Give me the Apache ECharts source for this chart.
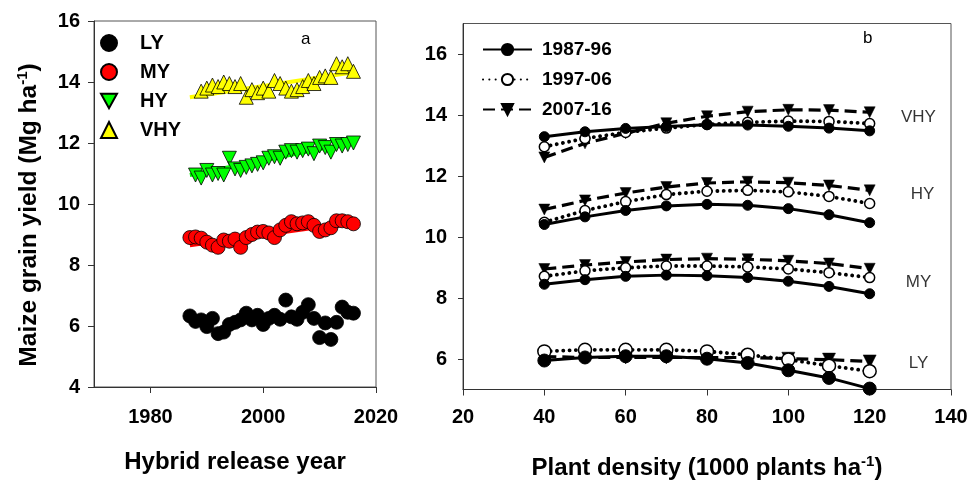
<!DOCTYPE html>
<html>
<head>
<meta charset="utf-8">
<script src="https://cdn.jsdelivr.net/npm/echarts@6/dist/echarts.min.js"></script>
<style>html,body{margin:0;padding:0;background:#fff}#c{width:975px;height:481px}</style>
</head>
<body>
<div id="c"></div>
<script>
// ---- Panel a data ----
const years = [1987,1988,1989,1990,1991,1992,1993,1994,1995,1996,1997,1998,1999,2000,2001,2002,2003,2004,2005,2006,2007,2008,2009,2010,2011,2012,2013,2014,2015,2016];
const LY  = [6.33,6.15,6.20,5.98,6.25,5.75,5.80,6.05,6.12,6.20,6.42,6.20,6.35,6.05,6.25,6.35,6.22,6.85,6.30,6.22,6.45,6.70,6.25,5.62,6.10,5.56,6.12,6.62,6.45,6.42];
const MY  = [8.90,8.92,8.88,8.75,8.65,8.58,8.82,8.78,8.85,8.58,8.90,9.00,9.08,9.10,9.05,8.90,9.15,9.30,9.42,9.35,9.38,9.42,9.30,9.10,9.15,9.22,9.45,9.45,9.42,9.35];
const HY  = [null,10.95,10.85,11.10,10.95,11.00,10.95,11.50,11.15,11.10,11.20,11.25,11.30,11.35,11.50,11.55,11.50,11.70,11.75,11.70,11.75,11.80,11.65,11.90,11.85,11.70,11.95,11.90,11.95,12.00];
const VHY = [null,null,13.70,13.80,13.90,13.85,14.00,13.95,13.85,13.95,13.50,13.75,13.65,13.80,13.70,14.05,13.95,13.80,13.70,13.75,13.85,14.05,13.95,14.15,14.20,14.15,14.60,14.50,14.60,14.35];
const fitYears = [1987, 2016];
const fitMY  = [8.65, 9.40];
const fitHY  = [10.95, 12.02];
const fitVHY = [13.50, 14.32];
const xTicksA = [1980, 2000, 2020];

// ---- Panel b data ----
const density = [40,50,60,70,80,90,100,110,120];
const periods = ['1987-96','1997-06','2007-16'];
const bVHY = [[13.29,13.45,13.56,13.62,13.68,13.67,13.63,13.57,13.48],
              [12.96,13.23,13.43,13.57,13.69,13.76,13.80,13.79,13.72],
              [12.61,13.07,13.40,13.73,13.96,14.11,14.17,14.16,14.09]];
const bHY  = [[10.41,10.66,10.87,11.02,11.07,11.04,10.93,10.73,10.47],
              [10.48,10.87,11.16,11.39,11.50,11.53,11.48,11.33,11.10],
              [10.90,11.20,11.44,11.64,11.77,11.81,11.78,11.69,11.53]];
const bMY  = [[8.45,8.60,8.71,8.75,8.73,8.67,8.55,8.38,8.14],
              [8.71,8.89,8.99,9.05,9.05,9.02,8.95,8.83,8.67],
              [8.95,9.08,9.18,9.26,9.29,9.27,9.22,9.13,8.96]];
const bLY  = [[5.95,6.05,6.09,6.09,6.01,5.87,5.63,5.38,5.03],
              [6.25,6.30,6.30,6.30,6.25,6.14,5.98,5.78,5.60],
              [6.08,6.05,6.05,6.05,6.05,6.05,6.01,5.98,5.92]];
const groupNames = ['VHY','HY','MY','LY'];
const groupLabelAnchor = [[132,13.93],[133,11.40],[132,8.50],[132,5.86]];
const yTicksB = [6,8,10,12,14,16];

// ---- chart ----
const FONT = "'Liberation Sans', Arial, sans-serif";
const DOWN_TRI = 'path://M0,0 L10,0 L5,9 Z';
const AX = '#333';
const pair = (xs, ys) => xs.map((x, i) => [x, ys[i]]);

const chart = echarts.init(document.getElementById('c'), null, {renderer: 'canvas'});

const tickLabel = {color: '#000', fontFamily: FONT, fontWeight: 'bold', fontSize: 20};
const nameRich = {
  a: {fontFamily: FONT, fontWeight: 'bold', fontSize: 24, color: '#000', lineHeight: 30},
  s: {fontFamily: FONT, fontWeight: 'bold', fontSize: 15, color: '#000', lineHeight: 30, padding: [0, 0, 13, 0]}
};
const nameRichY = {
  a: {fontFamily: FONT, fontWeight: 'bold', fontSize: 24.5, color: '#000', lineHeight: 30},
  s: {fontFamily: FONT, fontWeight: 'bold', fontSize: 15, color: '#000', lineHeight: 30, padding: [0, 0, 13, 0]}
};

const series = [];
// panel a trend lines
[[fitVHY,'#ffff00'],[fitHY,'#00ff00'],[fitMY,'#ff0000']].forEach(([f,c]) => {
  series.push({type:'line', xAxisIndex:0, yAxisIndex:0, data: pair(fitYears, f), showSymbol:false,
    lineStyle:{color:c, width:4}, z:1, silent:true});
});
// panel a scatter
const scat = [
  ['LY', LY, 'circle', '#000000'],
  ['MY', MY, 'circle', '#ff0000'],
  ['HY', HY, DOWN_TRI, '#00ff00'],
  ['VHY', VHY, 'triangle', '#ffff00']
];
scat.forEach(([n, d, sym, c]) => {
  series.push({type:'scatter', name:n, xAxisIndex:0, yAxisIndex:0,
    data: years.map((y,i) => d[i] == null ? null : [y, d[i]]).filter(v => v),
    symbol: sym, symbolSize: 14, z:3,
    itemStyle:{color:c, borderColor:'#000', borderWidth:0.8, opacity:1}});
});
// panel b lines
const styles = [
  {lineStyle:{color:'#000', width:3, type:'solid'}, symbol:'circle', itemStyle:{color:'#000', borderColor:'#000', borderWidth:1}},
  {lineStyle:{color:'#000', width:3.8, type:[0.1,6.2], cap:'round'}, symbol:'circle', itemStyle:{color:'#fff', borderColor:'#000', borderWidth:1.5}},
  {lineStyle:{color:'#000', width:3.2, type:[12,6]}, symbol:DOWN_TRI, itemStyle:{color:'#000', borderColor:'#000', borderWidth:0.5}}
];
[bVHY, bHY, bMY, bLY].forEach((grp, gi) => {
  grp.forEach((vals, pi) => {
    const st = styles[pi];
    series.push({type:'line', name: periods[pi], xAxisIndex:1, yAxisIndex:1,
      data: pair(density, vals), symbol: st.symbol,
      symbolSize: gi === 3 ? 13 : (pi === 2 ? 11 : 10), showAllSymbol:true,
      lineStyle: st.lineStyle, itemStyle: st.itemStyle, z: 3 + (2 - pi)});
  });
});
// panel b group labels
series.push({type:'scatter', xAxisIndex:1, yAxisIndex:1, symbolSize:0, silent:true,
  data: groupNames.map((n,i) => ({name:n, value: groupLabelAnchor[i]})),
  label:{show:true, position:'inside', formatter:'{b}', color:'#000', fontFamily:FONT, fontSize:17}});

chart.setOption({
  animation: false,
  backgroundColor: '#fff',
  grid: [
    {left:94, right:599, top:21, bottom:94, show:true, borderColor:'#555', borderWidth:1, containLabel:false, outerBoundsMode:'none'},
    {left:463, right:24, top:23.5, bottom:91.5, show:true, borderColor:'#555', borderWidth:1, containLabel:false, outerBoundsMode:'none'}
  ],
  xAxis: [
    {type:'value', gridIndex:0, min:1970, max:2020, interval:10,
      axisLine:{show:true, lineStyle:{color:AX}}, splitLine:{show:false},
      axisTick:{show:true, length:6, lineStyle:{color:AX}, customValues: xTicksA},
      axisLabel: Object.assign({margin:20, customValues: xTicksA, formatter: v => String(v)}, tickLabel),
      name:'Hybrid release year', nameLocation:'middle', nameGap:63,
      nameTextStyle:{fontFamily:FONT, fontWeight:'bold', fontSize:24, color:'#000'}},
    {type:'value', gridIndex:1, min:20, max:140, interval:20,
      axisLine:{show:true, lineStyle:{color:AX}}, splitLine:{show:false},
      axisTick:{show:true, length:6, lineStyle:{color:AX}},
      axisLabel: Object.assign({margin:18}, tickLabel),
      name:'{a|Plant density (1000 plants ha}{s|-1}{a|)}', nameLocation:'middle', nameGap:64,
      nameTextStyle:{rich:nameRich}}
  ],
  yAxis: [
    {type:'value', gridIndex:0, min:4, max:16, interval:2,
      axisLine:{show:true, lineStyle:{color:AX}}, splitLine:{show:false},
      axisTick:{show:true, length:6, lineStyle:{color:AX}},
      axisLabel: Object.assign({margin:14}, tickLabel),
      name:'{a|Maize grain yield (Mg ha}{s|-1}{a|)}', nameLocation:'middle', nameGap:50, nameRotate:90,
      nameTextStyle:{rich:nameRichY, padding:[0,22,0,0]}},
    {type:'value', gridIndex:1, min:5, max:17, interval:2,
      axisLine:{show:true, lineStyle:{color:AX}}, splitLine:{show:false},
      axisTick:{show:true, length:5, lineStyle:{color:AX}, customValues: yTicksB},
      axisLabel: Object.assign({margin:16, customValues: yTicksB}, tickLabel)}
  ],
  legend: [
    {data:['LY','MY','HY','VHY'], orient:'vertical', left:100, top:33, padding:0,
      itemWidth:16, itemHeight:16, itemGap:9, selectedMode:false,
      textStyle:{fontFamily:FONT, fontWeight:'bold', fontSize:20, color:'#000', padding:[0,0,0,18]}},
    {data:periods, orient:'vertical', left:482, top:40, padding:0,
      itemWidth:49, itemHeight:14, itemGap:11, selectedMode:false,
      textStyle:{fontFamily:FONT, fontWeight:'bold', fontSize:19, color:'#000', padding:[0,0,0,5]}}
  ],
  graphic: [
    {type:'text', left:301, top:31, style:{text:'a', font:"17px 'Liberation Sans', Arial", fill:'#000'}},
    {type:'text', left:863, top:30, style:{text:'b', font:"17px 'Liberation Sans', Arial", fill:'#000'}}
  ],
  series: series
});
</script>
</body>
</html>
